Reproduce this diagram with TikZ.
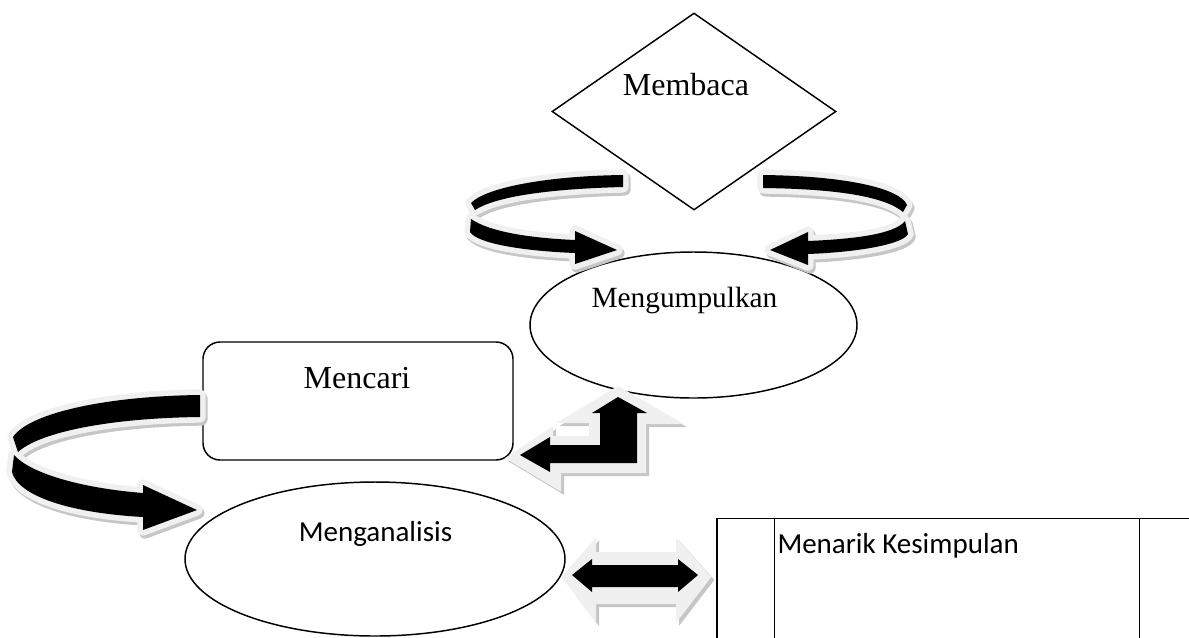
\documentclass[tikz,border=0pt]{standalone}
\usepackage{fontspec}
\setmainfont{Liberation Serif}
\newfontfamily\calibri{Carlito}
\usetikzlibrary{shapes.geometric}

\tikzset{every picture/.style={line width=0.75pt}}
\tikzset{
	shapeline/.style={draw=black,line width=1.1pt},
	arrshadow/.style={draw=gray!45,fill=gray!45,line width=8.5pt,line join=round},
	arrrim/.style={draw=gray!12,fill=gray!12,line width=8.5pt,line join=round},
	arrbody/.style={fill=black},
	serifbig/.style={font=\fontsize{24}{28}\selectfont,inner sep=0pt},
	serifnorm/.style={font=\fontsize{22}{26}\selectfont,inner sep=0pt},
	sansnorm/.style={font=\calibri\fontsize{21.75}{26}\selectfont,inner sep=0pt},
}

\begin{document}
\begin{tikzpicture}[x=0.75pt,y=0.75pt,yscale=-1,xscale=1]
				\useasboundingbox (0,0) rectangle (1189,637);
				\clip (0,0) rectangle (1189,637);
				
				% Shapes
				\node [shapeline,diamond,minimum width=213pt,minimum height=147.75pt,inner sep=0pt] (membaca) at (694,111.5) {};
				\node [shapeline,ellipse,minimum width=245.25pt,minimum height=109.5pt,inner sep=0pt] (kumpul) at (693.5,325) {};
				\node [shapeline,rectangle,rounded corners=12.75pt,minimum width=232.5pt,minimum height=88.5pt] (cari) at (358,401) {};
				\node [shapeline,ellipse,minimum width=285pt,minimum height=115.5pt,inner sep=0pt] (analisis) at (375,559) {};
				\node [shapeline,rectangle,minimum width=361.5pt,minimum height=98pt] (simpul) at (958,584) {};
				\draw [shapeline] ([xshift=43.5pt]simpul.north west) -- ([xshift=43.5pt]simpul.south west) ;
				\draw [shapeline] ([xshift=-45pt]simpul.north east) -- ([xshift=-45pt]simpul.south east) ;
				
				% Curved arrow, left of Membaca
				\foreach \sty/\dd in {arrshadow/2,arrrim/0,arrbody/0}
				\path [\sty,shift={(\dd,\dd*1.5)}] (623,175) .. controls (545,176) and (485,188) .. (471,203) -- (475,210) .. controls (495,197) and (545,189) .. (623,187) -- cycle
					(471,219) .. controls (490,232) and (530,238) .. (575,240) -- (575,231) -- (617,250) -- (575,264) -- (575,253) .. controls (525,251) and (478,244) .. (470,232) -- cycle ;
				% Curved arrow, right of Membaca
				\foreach \sty/\dd in {arrshadow/2,arrrim/0,arrbody/0}
				\path [\sty,shift={(\dd,\dd*1.5)}] (763,175) .. controls (845,176) and (900,188) .. (907,205) -- (903,212) .. controls (885,197) and (840,189) .. (763,188) -- cycle
					(905,221) .. controls (895,234) and (855,239) .. (808,241) -- (808,232) -- (770,250) -- (808,265) -- (808,254) .. controls (860,252) and (903,244) .. (908,234) -- cycle ;
				% Curved arrow, left of Mencari
				\foreach \sty/\dd in {arrshadow/2,arrrim/0,arrbody/0}
				\path [\sty,shift={(\dd,\dd*1.5)}] (200,395) .. controls (110,396) and (30,412) .. (13,437) -- (18,452) .. controls (40,432) and (110,418) .. (200,417) -- cycle
					(14,455) .. controls (30,473) and (80,488) .. (143,493) -- (143,485) -- (197,510) -- (143,530) -- (143,517) .. controls (70,513) and (18,496) .. (12,472) -- cycle ;
				% Left-up arrow
				\foreach \sty/\dd in {arrshadow/3,arrrim/0}
				\path [\sty,line width=1.5pt,line join=miter,shift={(\dd,\dd)}] (507,458) -- (552,428) -- (552,437) -- (590,437) -- (590,422) -- (560,422) -- (618,387) -- (680,423) -- (645,423) -- (645,472) -- (560,472) -- (560,490) -- cycle ;
				\path [arrbody] (520,455) -- (550,437) -- (550,445) -- (600,445) -- (600,413) -- (592,413) -- (618,397) -- (647,413) -- (637,413) -- (637,463) -- (550,463) -- (550,472) -- cycle ;
				% Left-right arrow
				\foreach \sty/\dd in {arrshadow/3,arrrim/0}
				\path [\sty,line width=1.5pt,line join=miter,shift={(\dd,\dd)}] (563,577) -- (595,540) -- (595,553) -- (677,553) -- (677,540) -- (710,577) -- (677,620) -- (677,603) -- (595,603) -- (595,620) -- cycle ;
				\path [arrbody] (572,575) -- (592,559) -- (592,565) -- (678,565) -- (678,559) -- (698,575) -- (678,592) -- (678,587) -- (592,587) -- (592,592) -- cycle ;
				
				% Text Node
				\node [serifbig,anchor=base] (tmembaca) at (686,95) {Membaca};
				% Text Node
				\node [serifnorm,anchor=base] (tkumpul) at (684.5,307) {Mengumpulkan};
				% Text Node
				\node [serifbig,anchor=base] (tcari) at (357,388) {Mencari};
				% Text Node
				\node [sansnorm,anchor=base] (tanalisis) at (375.5,541) {Menganalisis};
				% Text Node
				\node [sansnorm,anchor=base west] (tsimpul) at (777,553) {Menarik Kesimpulan};
				
\end{tikzpicture}
\end{document}
